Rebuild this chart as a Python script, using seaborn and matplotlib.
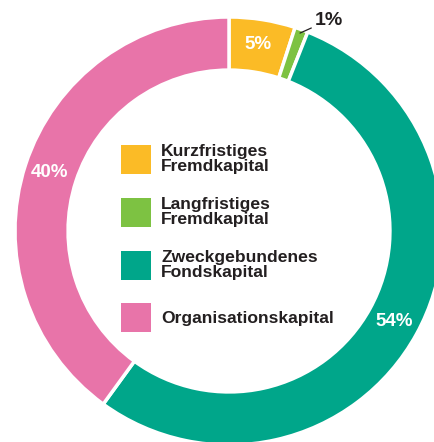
import seaborn as sns
import matplotlib.pyplot as plt
from matplotlib.patches import Patch

# --- capital structure donut ---
labels = ['Kurzfristiges\nFremdkapital', 'Langfristiges\nFremdkapital',
          'Zweckgebundenes\nFondskapital', 'Organisationskapital']
shares = [5, 1, 54, 40]
colors = ['#FBBB26', '#7DC242', '#00A68A', '#E874A9']

sns.set_theme(style='white')
plt.rcParams['font.family'] = ['Liberation Sans', 'DejaVu Sans']

fig = plt.figure(figsize=(4.35, 4.42), dpi=100)
ax = fig.add_axes([0, 0, 1, 1])

def pct(v):
    return '' if round(v) < 2 else f'{round(v)}%'

wedges, _, autotexts = ax.pie(shares, colors=colors, startangle=90, counterclock=False,
                              radius=1, autopct=pct, pctdistance=0.88,
                              wedgeprops=dict(width=0.248, edgecolor='white', linewidth=2.5),
                              textprops=dict(color='white', fontsize=13.5, fontweight='bold'))

# small slice gets an outside label with a leader line
ax.annotate(f'{shares[1]}%', xy=(0.332, 0.925), xytext=(0.40, 0.985),
            fontsize=14, fontweight='bold', color='#231F20', ha='left', va='center',
            arrowprops=dict(arrowstyle='-', color='#231F20', lw=0.9, shrinkA=0, shrinkB=0))

handles = [Patch(facecolor=c, edgecolor='none') for c in colors]
leg = ax.legend(handles, labels, loc='center left', bbox_to_anchor=(0.241, 0.462),
                frameon=False, handlelength=1.72, handleheight=2.19,
                handletextpad=0.6, labelspacing=1.3, prop=dict(weight='bold', size=12.6))
for t in leg.get_texts():
    t.set_color('#231F20')
    t.set_linespacing(1.0)

ax.set_xlim(-229 / 214, (435 - 229) / 214)
ax.set_ylim(-(442 - 231) / 214, 231 / 214)
ax.set_aspect('equal')
ax.axis('off')

plt.savefig('out.png', dpi=100)
